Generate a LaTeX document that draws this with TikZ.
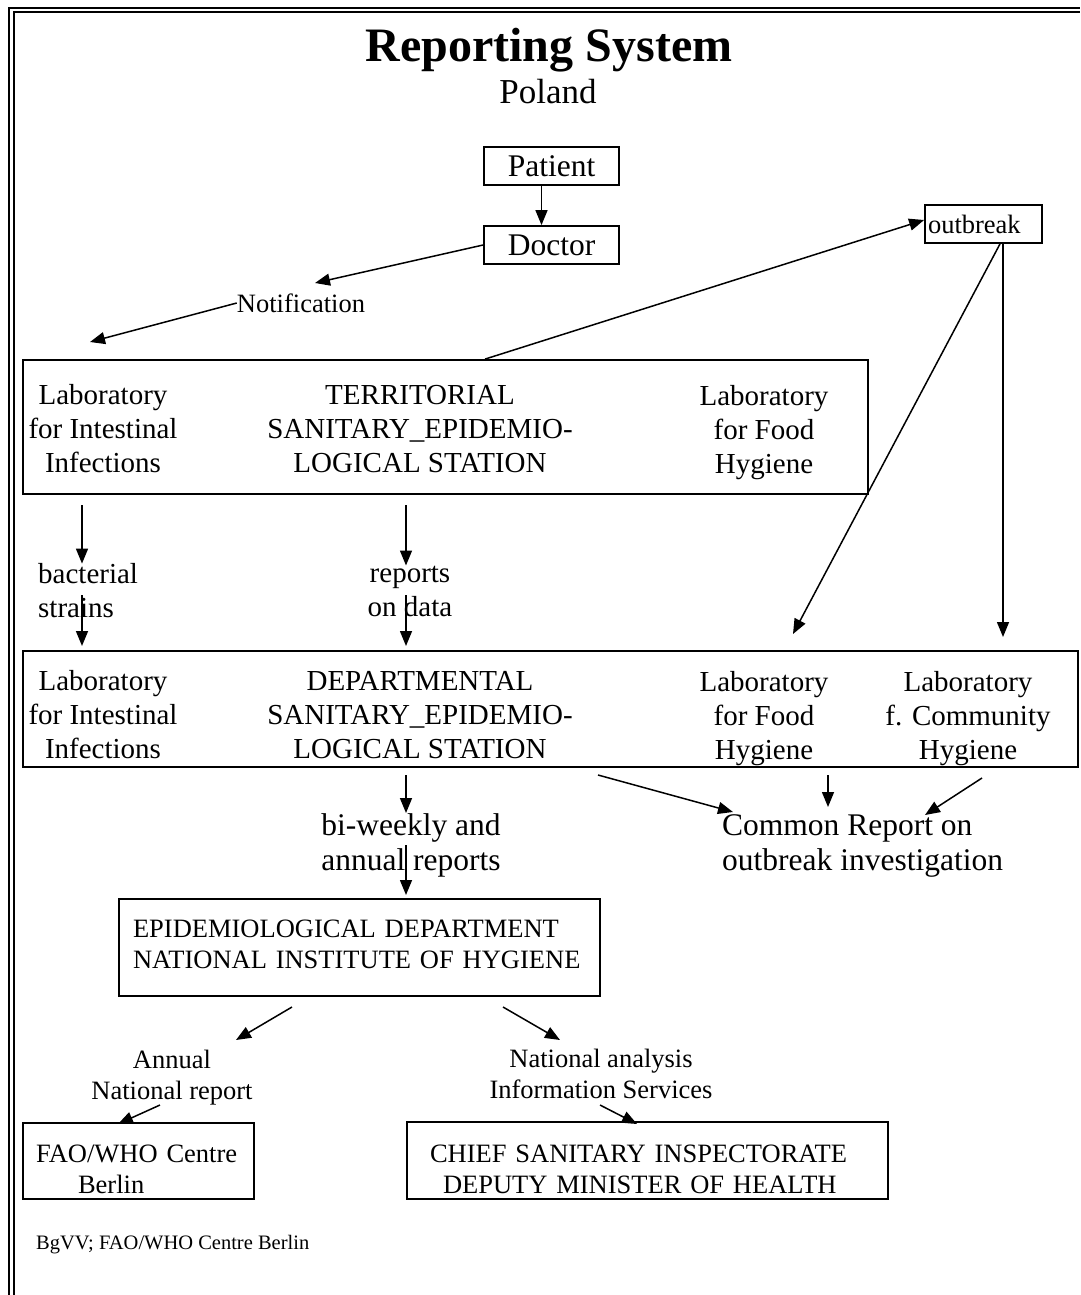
\documentclass[tikz,border=0pt]{standalone}
\usepackage{fontspec}
\setmainfont{Liberation Serif}
\usetikzlibrary{arrows.meta}
\begin{document}
\begin{tikzpicture}[x=1pt,y=-1pt]
    \tikzset{box/.style = {draw,line width=1.8pt,inner sep=0pt}}
    \tikzset{lab/.style = {inner sep=0pt,align=center}}
    \tikzset{arr/.style = {-{Triangle[length=15pt,width=12pt]},line width=1.5pt}}
    \tikzset{big/.style = {font=\fontsize{31.5}{35}\selectfont}}
    \tikzset{mid/.style = {font=\fontsize{29}{34}\selectfont}}
    \tikzset{small/.style = {font=\fontsize{26.5}{31}\selectfont}}
    \useasboundingbox (0,0) rectangle (1080,1295);
    % frame
    \draw[line width=2.6pt] (9,1295) -- (9,8) -- (1080,8);
    \draw[line width=2pt] (13.5,1295) -- (13.5,12.5) -- (1080,12.5);
    % title
    \node[lab,anchor=base,font=\fontsize{48}{52}\selectfont\bfseries] (title) at (549,62) {Reporting System};
    \node[lab,anchor=base,font=\fontsize{35}{40}\selectfont] (land) at (548,104) {Poland};
    % top
    \node[box,big,minimum width=135pt,minimum height=38pt] (pat) at (551.5,166) {Patient};
    \node[box,big,minimum width=135pt,minimum height=38pt] (doc) at (551.5,245) {Doctor};
    \node[box,small,minimum height=38pt,inner xsep=3pt,text width=111pt,align=left] (obk) at (983.5,224) {outbreak};
    \node[lab,small] (notif) at (301,303) {Notification};
    \draw[arr] ([xshift=-10pt]pat.south) -- ([xshift=-10pt]doc.north);
    \coordinate (n1) at (315,283);
    \coordinate (n2) at (90,342);
    \draw[arr] (doc.west) -- (n1);
    \draw[arr] (notif.west) -- (n2);
    % territorial station
    \node[box,minimum width=845pt,minimum height=134pt] (terr) at (445.5,427) {};
    \node[lab,mid] (tint) at (103,429) {Laboratory\\for Intestinal\\Infections};
    \node[lab,mid] (tsan) at (420,429) {TERRITORIAL\\SANITARY\_EPIDEMIO-\\LOGICAL STATION};
    \node[lab,mid] (tfood) at (764,432.5) {Laboratory\\for Food\\Hygiene};
    \draw[arr] ([xshift=39.5pt]terr.north) -- ([yshift=4pt]obk.west);
    % outbreak arrows
    \coordinate (o1) at (793,634);
    \coordinate (o2) at (1003,637);
    \draw[arr] ([xshift=16.5pt]obk.south) -- (o1);
    \draw[arr] ([xshift=19.5pt]obk.south) -- (o2);
    % between stations
    \node[lab,mid,align=left,anchor=west] (bact) at (38,591) {bacterial\\strains};
    \node[lab,mid] (rep) at (410,591) {reports\\on data};
    \coordinate (b1) at (82,505);
    \coordinate (b2) at (82,595);
    \coordinate (b3) at (82,646);
    \coordinate (r1) at (406,505);
    \coordinate (r2) at (406,595);
    \coordinate (r3) at (406,646);
    \draw[arr] (b1) -- (b1 |- bact.north);
    \draw[arr] (b2) -- (b3);
    \draw[arr] (r1) -- (r1 |- rep.north);
    \draw[arr] (r2) -- (r3);
    % departmental station
    \node[box,minimum width=1055pt,minimum height=116pt] (dept) at (550.5,709) {};
    \node[lab,mid] (dint) at (103,715) {Laboratory\\for Intestinal\\Infections};
    \node[lab,mid] (dsan) at (420,715) {DEPARTMENTAL\\SANITARY\_EPIDEMIO-\\LOGICAL STATION};
    \node[lab,mid] (dfood) at (764,718.5) {Laboratory\\for Food\\Hygiene};
    \node[lab,mid] (dcom) at (968,718.5) {Laboratory\\f. Community\\Hygiene};
    % reports below
    \node[lab,big] (biw) at (411,845) {bi-weekly and\\annual reports};
    \node[lab,big,align=left,anchor=west] (comm) at (722,846) {Common Report on\\outbreak investigation};
    \coordinate (w1) at (406,775);
    \coordinate (w2) at (406,845);
    \coordinate (w3) at (406,895);
    \draw[arr] (w1) -- (w1 |- biw.north);
    \draw[arr] (w2) -- (w3);
    \coordinate (c1) at (598,775);
    \coordinate (c2) at (733,812);
    \coordinate (c3) at (828,775);
    \coordinate (c4) at (828,807);
    \coordinate (c5) at (982,778);
    \coordinate (c6) at (925,815);
    \draw[arr] (c1) -- (c2);
    \draw[arr] (c3) -- (c4);
    \draw[arr] (c5) -- (c6);
    % national institute
    \node[box,small,minimum height=97pt,inner xsep=14pt,text width=453pt,align=left] (epi) at (359.5,947.5) {EPIDEMIOLOGICAL DEPARTMENT\\NATIONAL INSTITUTE OF HYGIENE\rule[-6pt]{0pt}{0pt}};
    \node[lab,small] (ann) at (172,1078) {Annual\\National report};
    \node[lab,small] (nat) at (601,1074) {National analysis\\Information Services};
    \node[box,small,minimum height=76pt,inner xsep=13pt,text width=205pt,align=left] (fao) at (138.5,1161) {\rule{0pt}{33.5pt}FAO/WHO Centre\\\hspace*{42pt}Berlin};
    \node[box,small,align=left,inner xsep=23pt,text width=435pt,minimum height=77pt] (chief) at (647.5,1160.5) {\rule{0pt}{35.5pt}CHIEF SANITARY INSPECTORATE\\\hspace*{13pt}DEPUTY MINISTER OF HEALTH};
    \coordinate (a1) at (292,1007);
    \coordinate (a2) at (236,1040);
    \coordinate (a3) at (160,1105);
    \coordinate (a4) at (118,1124);
    \coordinate (s1) at (503,1007);
    \coordinate (s2) at (560,1040);
    \coordinate (s3) at (600,1105);
    \coordinate (s4) at (637,1124);
    \draw[arr] (a1) -- (a2);
    \draw[arr] (a3) -- (a4);
    \draw[arr] (s1) -- (s2);
    \draw[arr] (s3) -- (s4);
    % source
    \node[lab,anchor=west,font=\fontsize{20.5}{24}\selectfont] (src) at (36,1245) {BgVV; FAO/WHO Centre Berlin};
\end{tikzpicture}
\end{document}
